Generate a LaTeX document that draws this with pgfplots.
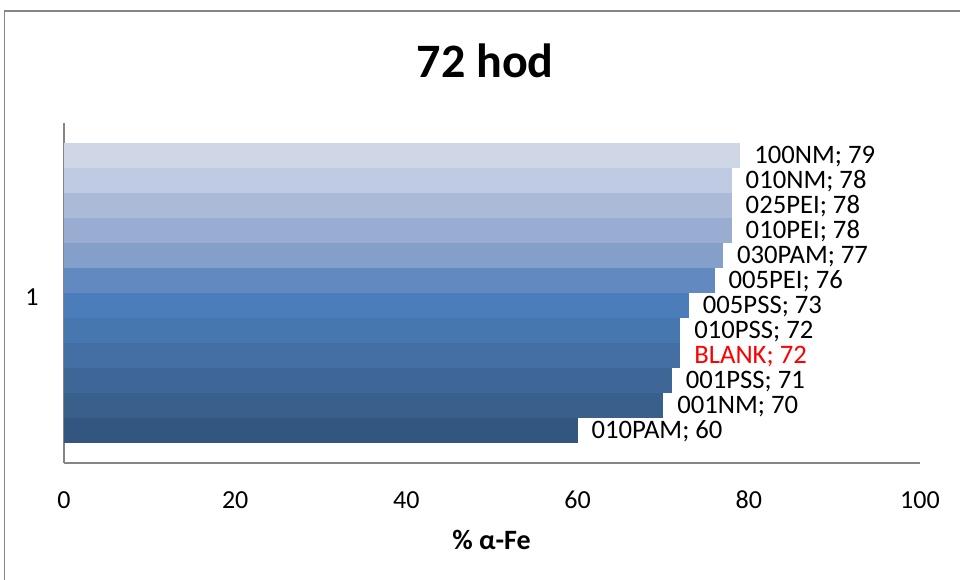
\documentclass[border=0pt]{standalone}
\usepackage{pgfplots}
\pgfplotsset{compat=1.18}
\usepackage{fontspec}
\setmainfont{Carlito}

% bar fills, darkest (bottom) to lightest (top)
\definecolor{b0}{HTML}{32567F}
\definecolor{b1}{HTML}{395F8B}
\definecolor{b2}{HTML}{3E6798}
\definecolor{b3}{HTML}{436FA5}
\definecolor{b4}{HTML}{4777AF}
\definecolor{b5}{HTML}{4A7DBA}
\definecolor{b6}{HTML}{6389C1}
\definecolor{b7}{HTML}{839FCA}
\definecolor{b8}{HTML}{98ADD1}
\definecolor{b9}{HTML}{AABAD7}
\definecolor{b10}{HTML}{BFCBE2}
\definecolor{b11}{HTML}{CFD6E6}
\definecolor{frame}{HTML}{868686}

\pgfplotsset{
  hbar/.style={xbar, bar shift=0pt, bar width=1, draw=none, fill=#1,
    point meta=explicit symbolic,
    nodes near coords={\pgfplotspointmeta;
      \pgfmathprintnumber{\pgfkeysvalueof{/data point/x}}}},
}

\begin{document}
\begin{tikzpicture}
\useasboundingbox (0pt,0pt) rectangle (720pt,434.25pt);
\draw[frame, line width=0.9pt] (3.5pt,-5pt) -- (3.5pt,426pt) -- (725pt,426pt);
\begin{axis}[
  at={(48pt,87pt)}, anchor=south west,
  scale only axis, width=642pt, height=255pt,
  xmin=0, xmax=100, ymin=-1.3, ymax=12.3,
  axis x line=bottom, axis y line=left,
  axis line style={-, draw=frame, line width=0.9pt},
  major tick length=0pt,
  xtick={0,20,40,60,80,100},
  ytick={5.5}, yticklabels={1},
  /pgf/number format/assume math mode=true,
  tick label style={font=\fontsize{19.5}{23}\selectfont},
  xticklabel style={anchor=center, yshift=-27.5pt},
  yticklabel style={anchor=center, xshift=-24pt, yshift=-3pt},
  every node near coord/.append style={anchor=west, xshift=7pt, yshift=-0.8pt,
    font=\fontsize{20}{24}\selectfont, text=black},
  title={72 hod},
  title style={at={(axis description cs:0.492,1.16)}, anchor=center,
    font=\fontsize{36}{40}\selectfont\bfseries},
  xlabel={\% α-Fe},
  xlabel style={at={(axis description cs:0.4995,-0.226)}, anchor=center,
    font=\fontsize{21}{25}\selectfont\bfseries},
]
\addplot[hbar=b0]  coordinates {(60,0)  [010PAM]};
\addplot[hbar=b1]  coordinates {(70,1)  [001NM]};
\addplot[hbar=b2]  coordinates {(71,2)  [001PSS]};
\addplot[hbar=b3, every node near coord/.append style={text=red}]
                   coordinates {(72,3)  [BLANK]};
\addplot[hbar=b4]  coordinates {(72,4)  [010PSS]};
\addplot[hbar=b5]  coordinates {(73,5)  [005PSS]};
\addplot[hbar=b6]  coordinates {(76,6)  [005PEI]};
\addplot[hbar=b7]  coordinates {(77,7)  [030PAM]};
\addplot[hbar=b8]  coordinates {(78,8)  [010PEI]};
\addplot[hbar=b9]  coordinates {(78,9)  [025PEI]};
\addplot[hbar=b10] coordinates {(78,10) [010NM]};
\addplot[hbar=b11] coordinates {(79,11) [100NM]};
\end{axis}
\end{tikzpicture}
\end{document}
